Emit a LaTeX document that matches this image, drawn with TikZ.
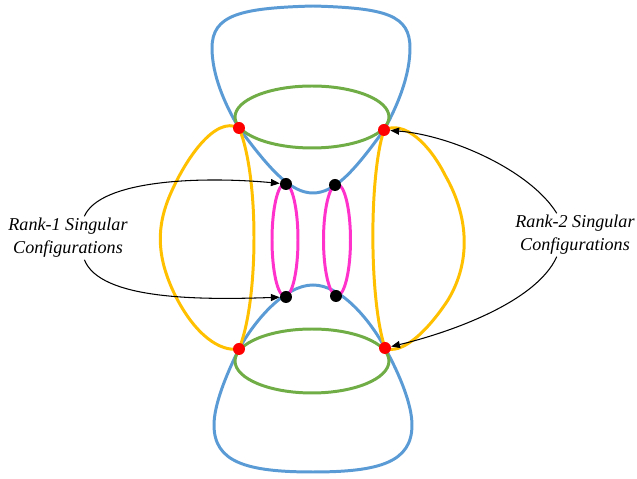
\documentclass[tikz,border=0pt]{standalone}
\usepackage{fontspec}
\setmainfont{Liberation Serif}
\usepackage{tikz}
\usetikzlibrary{arrows.meta}
\definecolor{cblue}{RGB}{91,155,213}
\definecolor{cgreen}{RGB}{112,173,71}
\definecolor{cyellow}{RGB}{255,192,0}
\definecolor{cpink}{RGB}{255,51,204}
\tikzset{
  blueline/.style={draw=cblue, line width=1.7pt},
  greenline/.style={draw=cgreen, line width=1.7pt},
  yellowline/.style={draw=cyellow, line width=1.7pt},
  pinkline/.style={draw=cpink, line width=1.7pt},
  rdot/.style={circle, fill=red, minimum size=0.24cm, inner sep=0pt},
  bdot/.style={circle, fill=black, minimum size=0.24cm, inner sep=0pt},
  lbl/.style={align=center, inner sep=1pt, font=\itshape\fontsize{10.3}{13}\selectfont},
  farr/.style={-{Triangle[length=5pt,width=4pt]}, line width=0.6pt}
}
\begin{document}
\begin{tikzpicture}[x=0.02cm, y=-0.02cm]
\useasboundingbox (0,0) rectangle (637,479);
% upper and lower blue shapes
\draw[blueline] (239,128) .. controls (225,105) and (212,75) .. (212,48)
  .. controls (212,15) and (240,8) .. (313,6)
  .. controls (386,8) and (410,15) .. (410,48)
  .. controls (410,75) and (398,105) .. (384,130)
  .. controls (355,170) and (335,193) .. (313,193)
  .. controls (291,193) and (270,170) .. (239,128) -- cycle;
\draw[blueline] (239,349) .. controls (255,320) and (285,285) .. (313,285)
  .. controls (341,285) and (370,320) .. (385,348)
  .. controls (400,375) and (412,405) .. (412,425)
  .. controls (412,462) and (380,472) .. (313,472)
  .. controls (246,472) and (214,462) .. (214,425)
  .. controls (214,405) and (226,375) .. (239,349) -- cycle;
% green rings
\draw[greenline] (312,117) ellipse [x radius=1.54cm, y radius=0.62cm];
\draw[greenline] (312,361) ellipse [x radius=1.54cm, y radius=0.64cm];
% yellow loops
\draw[yellowline] (239,128) .. controls (215,115) and (185,160) .. (170,195)
  .. controls (155,230) and (158,260) .. (175,295)
  .. controls (195,335) and (220,352) .. (239,349)
  .. controls (259,300) and (259,175) .. (239,128) -- cycle;
\draw[yellowline] (384,130) .. controls (405,120) and (430,145) .. (445,175)
  .. controls (468,215) and (472,260) .. (448,300)
  .. controls (425,335) and (400,355) .. (385,348)
  .. controls (369,300) and (369,175) .. (384,130) -- cycle;
% pink loops
\draw[pinkline] (285,240) ellipse [x radius=0.26cm, y radius=1.13cm];
\draw[pinkline] (337,240) ellipse [x radius=0.27cm, y radius=1.12cm];
% singular points
\node[rdot] (tl) at (239,128) {};
\node[rdot] (tr) at (384,130) {};
\node[rdot] (bl) at (239,349) {};
\node[rdot] (br) at (385,348) {};
\node[bdot] (d1) at (286,184) {};
\node[bdot] (d2) at (335,185) {};
\node[bdot] (d3) at (286,297) {};
\node[bdot] (d4) at (336,296) {};
% labels
\node[lbl] (r1) at (68,238) {Rank-1 Singular\\Configurations};
\node[lbl] (r2) at (575,235) {Rank-2 Singular\\Configurations};
\draw[farr] (r1.53) .. controls (100,180) and (200,176) .. (d1);
\draw[farr] (r1.-53) .. controls (100,300) and (200,300) .. (d3);
\draw[farr] (r2.130) .. controls (530,170) and (450,135) .. (tr);
\draw[farr] (r2.-130) .. controls (535,305) and (440,335) .. (br);
\end{tikzpicture}
\end{document}
